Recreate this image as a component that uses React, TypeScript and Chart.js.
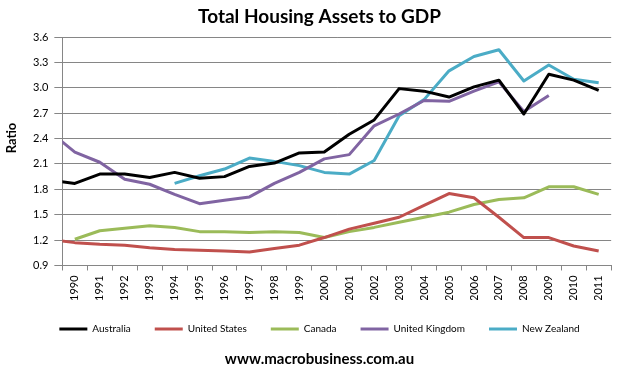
import React, { useEffect, useRef } from 'react';
import { Chart, registerables } from 'chart.js';
Chart.register(...registerables);

// 1989 is only used so lines that run off the left edge are drawn to the axis (clipped)
const years = ['1989', '1990', '1991', '1992', '1993', '1994', '1995', '1996', '1997', '1998', '1999', '2000', '2001', '2002', '2003', '2004', '2005', '2006', '2007', '2008', '2009', '2010', '2011'];

const australia = [1.91, 1.87, 1.98, 1.98, 1.94, 2.0, 1.93, 1.95, 2.07, 2.11, 2.23, 2.24, 2.45, 2.62, 2.99, 2.96, 2.89, 3.01, 3.09, 2.69, 3.16, 3.09, 2.97];
const unitedStates = [1.21, 1.17, 1.15, 1.14, 1.11, 1.09, 1.08, 1.07, 1.06, 1.1, 1.14, 1.23, 1.33, 1.4, 1.47, 1.61, 1.75, 1.7, 1.47, 1.23, 1.23, 1.13, 1.07];
const canada = [null, 1.21, 1.31, 1.34, 1.37, 1.35, 1.3, 1.3, 1.29, 1.3, 1.29, 1.23, 1.3, 1.35, 1.41, 1.47, 1.53, 1.62, 1.68, 1.7, 1.83, 1.83, 1.74];
const unitedKingdom = [2.48, 2.24, 2.12, 1.92, 1.86, 1.74, 1.63, 1.67, 1.71, 1.87, 2.0, 2.16, 2.21, 2.55, 2.69, 2.85, 2.84, 2.96, 3.07, 2.72, 2.91, null, null];
const newZealand = [null, null, null, null, null, 1.87, 1.96, 2.04, 2.17, 2.13, 2.08, 2.0, 1.98, 2.14, 2.67, 2.86, 3.2, 3.37, 3.45, 3.08, 3.27, 3.1, 3.06];

const seriesNames = ['Australia', 'United States', 'Canada', 'United Kingdom', 'New Zealand'];
const seriesColors = ['#000000', '#C0504D', '#9BBB59', '#8064A2', '#4BACC6'];
const seriesValues = [australia, unitedStates, canada, unitedKingdom, newZealand];

const yTicks = [0.9, 1.2, 1.5, 1.8, 2.1, 2.4, 2.7, 3.0, 3.3, 3.6];

const titleText = 'Total Housing Assets to GDP';
const sourceText = 'www.macrobusiness.com.au';

const GRID = '#868686';
const FONT = 'Lato, "Liberation Sans", sans-serif';

function fitSize(text: string, target: number, base: number): number {
  const c = document.createElement('canvas').getContext('2d');
  if (!c) return base;
  c.font = `bold ${base}px ${FONT}`;
  const w = c.measureText(text).width;
  if (!w) return base;
  return Math.round((base * target / w) * 2) / 2;
}

const yTitlePlugin = {
  id: 'yTitle',
  afterDraw(chart: any) {
    const ctx = chart.ctx;
    ctx.save();
    ctx.font = `bold 13px ${FONT}`;
    ctx.fillStyle = '#000';
    ctx.textAlign = 'center';
    ctx.textBaseline = 'middle';
    ctx.translate(12, 138);
    ctx.rotate(-Math.PI / 2);
    ctx.fillText('Ratio', 0, 0);
    ctx.restore();
  },
};

export default function App() {
  const ref = useRef<HTMLCanvasElement>(null);
  useEffect(() => {
    Chart.defaults.font.family = FONT;
    Chart.defaults.color = '#000';
    const titleSize = Math.min(22, Math.max(15, fitSize(titleText, 245, 18)));
    const sourceSize = Math.min(17, Math.max(12, fitSize(sourceText, 188, 14)));
    const chart = new Chart(ref.current as HTMLCanvasElement, {
      type: 'line',
      data: {
        labels: years,
        datasets: seriesNames.map((name, i) => ({
          label: name,
          data: seriesValues[i],
          borderColor: seriesColors[i],
          backgroundColor: seriesColors[i],
          borderWidth: 3,
          pointRadius: 0,
          pointHoverRadius: 0,
          tension: 0,
          fill: false,
          borderJoinStyle: 'round',
          clip: 0,
        })),
      },
      plugins: [yTitlePlugin],
      options: {
        animation: false,
        responsive: true,
        maintainAspectRatio: false,
        layout: { padding: { left: 27, right: 5, top: 0, bottom: 0 } },
        plugins: {
          title: {
            display: true,
            text: titleText,
            font: { size: titleSize, weight: 'bold', lineHeight: 1.0 },
            color: '#000',
            padding: { top: 7, bottom: 11 },
          },
          subtitle: {
            display: true,
            position: 'bottom',
            text: sourceText,
            font: { size: sourceSize, weight: 'bold', lineHeight: 1.0 },
            color: '#000',
            padding: { top: 8, bottom: 9 },
          },
          legend: {
            position: 'bottom',
            labels: {
              usePointStyle: true,
              pointStyle: 'line',
              pointStyleWidth: 28,
              boxHeight: 10,
              padding: 24,
              font: { size: 10 },
              color: '#000',
            },
          },
          tooltip: { enabled: false },
        },
        scales: {
          x: {
            min: '1990',
            offset: true,
            grid: { offset: true, drawOnChartArea: false, drawTicks: true, tickLength: 5, color: GRID },
            border: { display: true, color: GRID },
            ticks: { minRotation: 90, maxRotation: 90, autoSkip: false, padding: 5, font: { size: 11 }, color: '#000' },
            afterFit: (axis: any) => {
              axis.height -= 6;
            },
          },
          y: {
            min: yTicks[0],
            max: yTicks[yTicks.length - 1],
            afterBuildTicks: (axis: any) => {
              axis.ticks = yTicks.map((v) => ({ value: v }));
            },
            ticks: {
              callback: (v: any) => Number(v).toFixed(1),
              font: { size: 11 },
              color: '#000',
              padding: 6,
            },
            grid: { color: GRID, tickLength: 8, drawTicks: true },
            border: { display: true, color: GRID },
          },
        },
      } as any,
    });
    return () => chart.destroy();
  }, []);
  return (
    <div style={{ position: 'fixed', left: 0, top: 0, width: 617, height: 376, background: '#fff' }}>
      <canvas ref={ref} />
    </div>
  );
}
